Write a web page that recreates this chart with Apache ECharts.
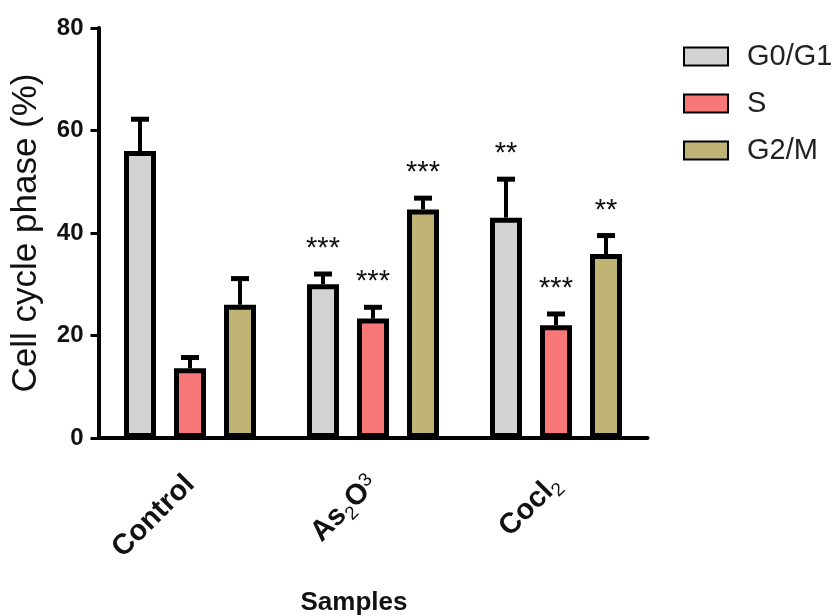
<!DOCTYPE html>
<html>
<head>
<meta charset="utf-8">
<script src="https://cdn.jsdelivr.net/npm/echarts@6/dist/echarts.min.js"></script>
<style>
  html, body { margin: 0; padding: 0; background: #fff; }
  #chart { width: 832px; height: 616px; }
</style>
</head>
<body>
<div id="chart"></div>
<script>
// data
var samples = ['Control', 'As2O3', 'Cocl2']
var phases = ['G0/G1', 'S', 'G2/M']
var g0g1 = [56.0, 30.0, 43.0]
var g0g1Err = [6.2, 2.0, 7.5]
var g0g1Stars = ['', '***', '**']
var sPhase = [13.6, 23.3, 22.0]
var sPhaseErr = [2.1, 2.2, 2.2]
var sPhaseStars = ['', '***', '***']
var g2m = [26.0, 44.6, 35.9]
var g2mErr = [5.1, 2.2, 3.6]
var g2mStars = ['', '***', '**']
var yTicks = [0, 20, 40, 60, 80]

var colors = ['#d3d3d3', '#f87878', '#bfb476']
var font = 'Liberation Sans'
var barStep = 50 // px between bar centres in a group

function barSeries (i, values) {
  return {
    name: phases[i],
    type: 'bar',
    data: values,
    barWidth: 32,
    barGap: '56.25%',
    itemStyle: {
      color: colors[i],
      borderColor: '#000',
      borderWidth: 5
    },
    z: 3
  }
}

// upper error whisker + significance stars
function errSeries (i, values, errs, stars) {
  return {
    name: 'err' + i,
    type: 'custom',
    encode: { x: 0, y: 1 },
    data: values.map(function (v, k) { return [k, v, errs[k], stars[k]] }),
    renderItem: function (params, api) {
      var k = api.value(0)
      var v = api.value(1)
      var e = api.value(2)
      var base = api.coord([k, v])
      var top = api.coord([k, v + e])
      var x = base[0] + (i - 1) * barStep
      var star = stars[params.dataIndex]
      var children = [
        { type: 'line', shape: { x1: x, y1: base[1], x2: x, y2: top[1] }, style: { stroke: '#000', lineWidth: 4 } },
        { type: 'rect', shape: { x: x - 9, y: top[1] - 2.5, width: 18, height: 5 }, style: { fill: '#000' } }
      ]
      if (star) {
        children.push({
          type: 'text',
          x: x,
          y: top[1] - 25,
          style: { text: star, fill: '#111', font: '29px "' + font + '"', align: 'center', verticalAlign: 'middle' }
        })
      }
      return { type: 'group', children: children }
    },
    z: 4
  }
}

var chart = echarts.init(document.getElementById('chart'))
chart.setOption({
  animation: false,
  backgroundColor: '#fff',
  textStyle: { fontFamily: font },
  grid: { left: 98.5, right: 184.5, top: 28, bottom: 178, outerBoundsMode: 'none', containLabel: false },
  legend: {
    data: phases,
    orient: 'vertical',
    left: 678,
    top: 37,
    icon: 'rect',
    itemWidth: 44,
    itemHeight: 18,
    itemGap: 18,
    itemTextGap: 33,
    textStyle: { fontFamily: font, fontSize: 29, color: '#222', padding: [0, 0, 0, 14] }
  },
  xAxis: {
    type: 'category',
    data: samples,
    name: 'Samples',
    nameLocation: 'middle',
    nameGap: 152,
    nameTextStyle: { fontFamily: font, fontSize: 26, fontWeight: 'bold', color: '#111', padding: [0, 38, 0, 0] },
    axisLine: { lineStyle: { color: '#000', width: 4 } },
    axisTick: { alignWithLabel: true, length: 9, lineStyle: { color: '#000', width: 3 } },
    axisLabel: {
      rotate: 45,
      margin: 42,
      color: '#111',
      fontFamily: font,
      fontSize: 29,
      fontWeight: 'bold',
      formatter: function (val) {
        if (val === 'As2O3') return 'As{sub|2}O{sup|3}'
        if (val === 'Cocl2') return 'Cocl{sub|2}'
        return val
      },
      rich: {
        sub: { fontSize: 19, fontWeight: 'normal', color: '#111', fontFamily: font, verticalAlign: 'bottom', padding: [0, 0, -4, 0] },
        sup: { fontSize: 19, fontWeight: 'normal', color: '#111', fontFamily: font, verticalAlign: 'top' }
      }
    }
  },
  yAxis: {
    type: 'value',
    min: yTicks[0],
    max: yTicks[yTicks.length - 1],
    interval: 20,
    name: 'Cell cycle phase (%)',
    nameLocation: 'middle',
    nameGap: 55,
    nameTextStyle: { fontFamily: font, fontSize: 35, color: '#111' },
    axisLine: { show: true, lineStyle: { color: '#000', width: 4 } },
    axisTick: { show: true, length: 8, lineStyle: { color: '#000', width: 3 } },
    splitLine: { show: false },
    axisLabel: { margin: 15, color: '#111', fontFamily: font, fontSize: 24, fontWeight: 'bold' }
  },
  series: [
    barSeries(0, g0g1),
    barSeries(1, sPhase),
    barSeries(2, g2m),
    errSeries(0, g0g1, g0g1Err, g0g1Stars),
    errSeries(1, sPhase, sPhaseErr, sPhaseStars),
    errSeries(2, g2m, g2mErr, g2mStars)
  ]
})
</script>
</body>
</html>
